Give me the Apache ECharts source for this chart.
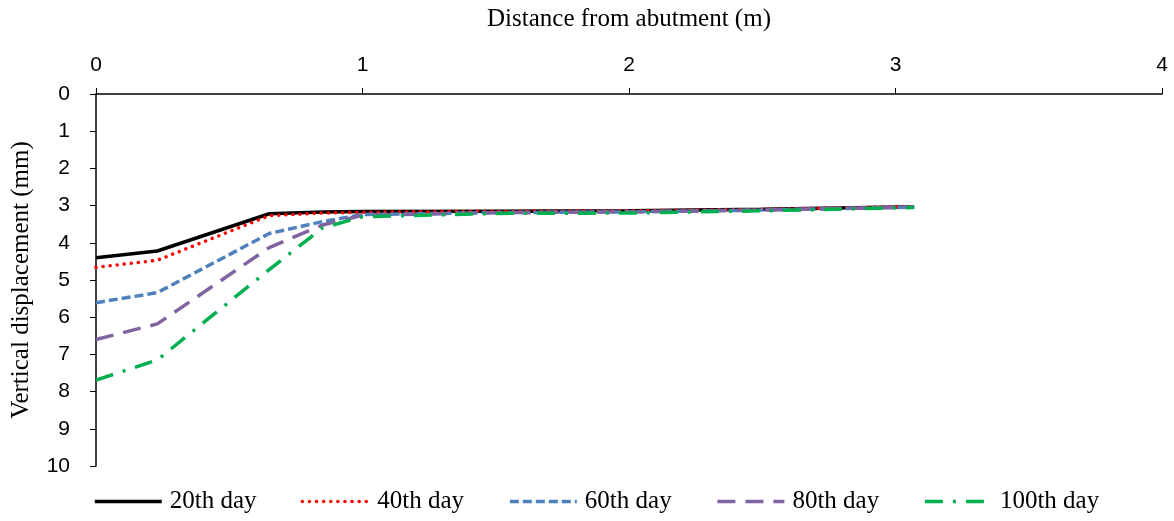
<!DOCTYPE html>
<html>
<head>
<meta charset="utf-8">
<script src="https://cdn.jsdelivr.net/npm/echarts@6/dist/echarts.min.js"></script>
<style>
  html, body { margin: 0; padding: 0; background: #fff; }
  #chart { width: 1174px; height: 521px; }
</style>
</head>
<body>
<div id="chart"></div>
<script>
// distance from abutment (m)
const distance = [0, 0.23, 0.65, 0.85, 1.0, 1.5, 2.0, 2.5, 3.07]

// vertical displacement (mm)
const day20 = [4.40, 4.22, 3.22, 3.17, 3.16, 3.15, 3.14, 3.10, 3.03]
const day40 = [4.66, 4.47, 3.27, 3.20, 3.18, 3.15, 3.14, 3.10, 3.02]
const day60 = [5.61, 5.34, 3.75, 3.43, 3.24, 3.19, 3.17, 3.12, 3.04]
const day80 = [6.60, 6.18, 4.13, 3.52, 3.26, 3.19, 3.17, 3.12, 3.04]
const day100 = [7.69, 7.15, 4.72, 3.60, 3.30, 3.21, 3.20, 3.14, 3.05]

const seriesNames = ['20th day', '40th day', '60th day', '80th day', '100th day']

const chart = echarts.init(document.getElementById('chart'))

const pairs = vals => distance.map((d, i) => [d, vals[i]])

const mkLine = (name, vals, color, type, width, cap) => ({
  name: name,
  type: 'line',
  data: pairs(vals),
  symbol: 'none',
  showSymbol: false,
  smooth: false,
  lineStyle: { color: color, type: type, width: width, cap: cap || 'butt' },
  itemStyle: { color: color }
})

const option = {
  animation: false,
  grid: { left: 96, right: 12, top: 94, bottom: 55 },
  legend: {
    data: seriesNames,
    bottom: 2,
    left: 88,
    itemWidth: 67,
    itemHeight: 12,
    itemGap: 44,
    itemStyle: { opacity: 0 },
    lineStyle: { width: 3.5 },
    textStyle: { fontFamily: 'Liberation Serif', fontSize: 25, color: '#000', padding: [0, 0, 0, 3] }
  },
  xAxis: {
    type: 'value',
    position: 'top',
    min: 0, max: 4, interval: 1,
    name: 'Distance from abutment (m)',
    nameLocation: 'middle',
    nameGap: 62,
    nameTextStyle: { fontFamily: 'Liberation Serif', fontSize: 25, color: '#000' },
    axisLine: { show: true, lineStyle: { color: '#000', width: 1.5 } },
    axisTick: { show: true, length: 6, lineStyle: { color: '#000' } },
    axisLabel: { fontFamily: 'Liberation Sans', fontSize: 21, color: '#000', margin: 18 },
    splitLine: { show: false }
  },
  yAxis: {
    type: 'value',
    inverse: true,
    min: 0, max: 10, interval: 1,
    name: 'Vertical displacement (mm)',
    nameLocation: 'middle',
    nameGap: 62,
    nameTextStyle: { fontFamily: 'Liberation Serif', fontSize: 25, color: '#000' },
    axisLine: { show: true, lineStyle: { color: '#000', width: 1.5 } },
    axisTick: { show: true, length: 6, lineStyle: { color: '#000' } },
    axisLabel: { fontFamily: 'Liberation Sans', fontSize: 21, color: '#000', margin: 26 },
    splitLine: { show: false }
  },
  series: [
    mkLine(seriesNames[0], day20, '#000000', 'solid', 3.5),
    mkLine(seriesNames[1], day40, '#FF0000', [0.1, 7], 3.5, 'round'),
    mkLine(seriesNames[2], day60, '#4F81BD', [9, 4], 3.5),
    mkLine(seriesNames[3], day80, '#8064A2', [18, 10], 3.5),
    mkLine(seriesNames[4], day100, '#00B050', [18, 10, 3, 10], 3.5)
  ]
}

chart.setOption(option)

window.addEventListener('resize', () => {
  chart.resize()
})
</script>
</body>
</html>
